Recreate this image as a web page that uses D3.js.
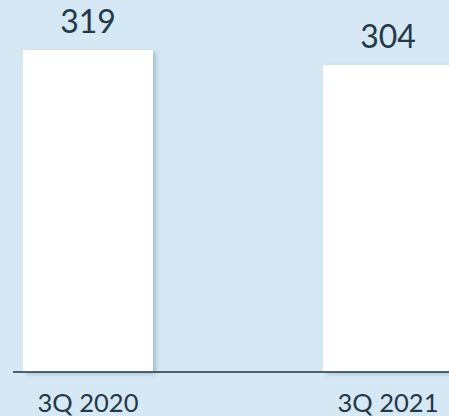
<!DOCTYPE html>
<html>
<head>
<meta charset="utf-8">
<script src="https://cdnjs.cloudflare.com/ajax/libs/d3/7.8.5/d3.min.js"></script>
<style>
  html, body { margin: 0; padding: 0; background: #d5e8f3; overflow: hidden; }
  svg { display: block; }
  text { font-family: "Lato", "Open Sans", sans-serif; fill: #24394a; }
</style>
</head>
<body>
<svg id="chart" width="449" height="416"></svg>
<script>
var categories = ["3Q 2020", "3Q 2021"];
var values = [319, 304];

var svg = d3.select("#chart");
var width = 449, height = 416;
var baseline = 372;

svg.append("rect")
    .attr("width", width)
    .attr("height", height)
    .attr("fill", "#d5e8f3");

// soft drop shadow on the bars
var defs = svg.append("defs");
var filter = defs.append("filter")
    .attr("id", "shadow")
    .attr("x", "-10%").attr("y", "-10%")
    .attr("width", "130%").attr("height", "130%");
filter.append("feDropShadow")
    .attr("dx", 3).attr("dy", 2)
    .attr("stdDeviation", 2)
    .attr("flood-color", "#6f8ea3")
    .attr("flood-opacity", 0.45);

var x = d3.scaleBand()
    .domain(categories)
    .range([23, 453])
    .paddingInner(170 / 300)
    .paddingOuter(0);

var y = d3.scaleLinear()
    .domain([0, 319])
    .range([baseline, 50]);

svg.selectAll("rect.bar")
    .data(values)
    .enter()
    .append("rect")
    .attr("class", "bar")
    .attr("x", function(d, i) { return x(categories[i]); })
    .attr("y", function(d) { return y(d); })
    .attr("width", x.bandwidth())
    .attr("height", function(d) { return baseline - y(d); })
    .attr("fill", "#ffffff")
    .attr("filter", "url(#shadow)");

// axis line
svg.append("line")
    .attr("x1", 13).attr("x2", width)
    .attr("y1", baseline).attr("y2", baseline)
    .attr("stroke", "#1f3344")
    .attr("stroke-width", 1.5);

// value labels
svg.selectAll("text.value")
    .data(values)
    .enter()
    .append("text")
    .attr("class", "value")
    .attr("x", function(d, i) { return x(categories[i]) + x.bandwidth() / 2; })
    .attr("y", function(d) { return y(d) - 17.5; })
    .attr("text-anchor", "middle")
    .attr("font-size", 32)
    .text(function(d) { return d; });

// category labels
svg.selectAll("text.cat")
    .data(categories)
    .enter()
    .append("text")
    .attr("class", "cat")
    .attr("x", function(d) { return x(d) + x.bandwidth() / 2; })
    .attr("y", 412)
    .attr("text-anchor", "middle")
    .attr("font-size", 25.5)
    .text(function(d) { return d; });
</script>
</body>
</html>
